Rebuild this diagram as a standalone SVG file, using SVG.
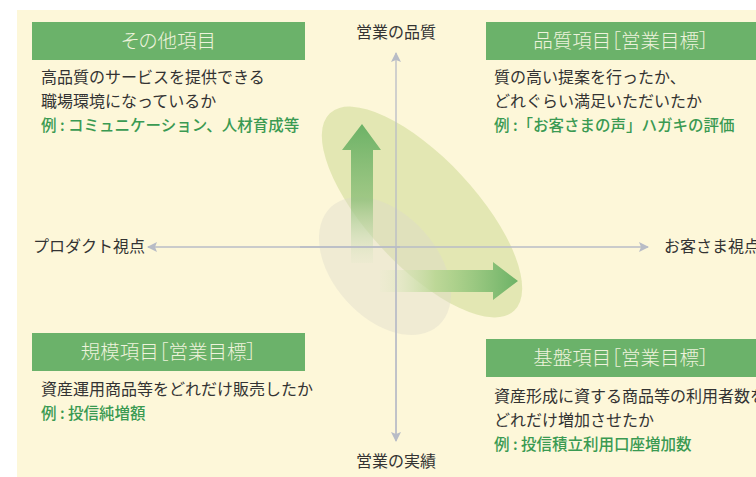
<svg xmlns="http://www.w3.org/2000/svg" width="756" height="477" viewBox="0 0 756 477">
  <defs>
    <style>
      .hdr { fill: #6bb26a; }
      .ht { font-family: "Noto Sans CJK JP", "Noto Sans", sans-serif; font-size: 19.5px; font-weight: 300; fill: #eef3dc; text-anchor: middle; font-feature-settings: "palt"; }
      .bt { font-family: "Noto Sans CJK JP", "Noto Sans", sans-serif; font-size: 16px; fill: #333333; }
      .gt { font-family: "Noto Sans CJK JP", "Noto Sans", sans-serif; font-size: 15.5px; fill: #3a9a52; font-weight: 500; }
      .ax { font-family: "Noto Sans CJK JP", "Noto Sans", sans-serif; font-size: 16px; fill: #333333; }
      .axis { stroke: #b8bcc6; stroke-width: 1.3; fill: none; }
    </style>
    <marker id="ah" viewBox="0 0 10 10" refX="9" refY="5" markerWidth="10" markerHeight="10" markerUnits="userSpaceOnUse" orient="auto">
      <path d="M0,0 L10,5 L0,10 L2,5 Z" fill="#b8bcc6"/>
    </marker>
    <linearGradient id="gUp" x1="0" y1="0" x2="0" y2="1">
      <stop offset="0" stop-color="#6cb266" stop-opacity="1"/>
      <stop offset="0.55" stop-color="#8fc07a" stop-opacity="0.8"/>
      <stop offset="1" stop-color="#dfe8c8" stop-opacity="0.2"/>
    </linearGradient>
    <linearGradient id="gRight" x1="0" y1="0" x2="1" y2="0">
      <stop offset="0" stop-color="#e6eccc" stop-opacity="0.2"/>
      <stop offset="0.4" stop-color="#b4d58e" stop-opacity="0.8"/>
      <stop offset="1" stop-color="#6cb266" stop-opacity="1"/>
    </linearGradient>
  </defs>

  <rect x="0" y="0" width="756" height="477" fill="#ffffff"/>
  <rect x="17" y="10" width="739" height="467" fill="#fdf7d9"/>

  <g id="ellipses">
    <ellipse cx="422" cy="212" rx="135" ry="54" transform="rotate(47 422 212)" fill="#d9e2a6" fill-opacity="0.75"/>
    <ellipse cx="385" cy="266" rx="80" ry="52" transform="rotate(48 385 266)" fill="#dcdacb" fill-opacity="0.4"/>
  </g>

  <g id="arrows">
    <path d="M351,263 L351,150 L342,150 L362,124 L381,150 L373,150 L373,263 Z" fill="url(#gUp)"/>
    <path d="M380,270 L493,270 L493,262 L518,281 L493,300 L493,292 L380,292 Z" fill="url(#gRight)"/>
  </g>

  <g id="connectors">
    <line class="axis" x1="396" y1="440" x2="396" y2="53" marker-end="url(#ah)"/>
    <line class="axis" x1="396" y1="247" x2="396" y2="441" marker-end="url(#ah)"/>
    <line class="axis" x1="300" y1="247" x2="648" y2="247" marker-end="url(#ah)"/>
    <line class="axis" x1="400" y1="247" x2="148" y2="247" marker-end="url(#ah)"/>
  </g>

  <g id="axis-labels">
    <text class="ax" x="396" y="38" text-anchor="middle">営業の品質</text>
    <text class="ax" x="396" y="467" text-anchor="middle">営業の実績</text>
    <text class="ax" x="33" y="252">プロダクト視点</text>
    <text class="ax" x="664" y="252">お客さま視点</text>
  </g>

  <g id="node-other">
    <rect class="hdr" x="32" y="22" width="273" height="38"/>
    <text class="ht" x="168.5" y="48">その他項目</text>
    <text class="bt" x="41" y="83">高品質のサービスを提供できる</text>
    <text class="bt" x="41" y="107">職場環境になっているか</text>
    <text class="gt" x="41" y="131">例 : コミュニケーション、人材育成等</text>
  </g>

  <g id="node-quality">
    <rect class="hdr" x="486" y="22" width="270" height="38"/>
    <text class="ht" x="621" y="48">品質項目［営業目標］</text>
    <text class="bt" x="494" y="83">質の高い提案を行ったか、</text>
    <text class="bt" x="494" y="107">どれぐらい満足いただいたか</text>
    <text class="gt" x="494" y="131">例 :「お客さまの声」ハガキの評価</text>
  </g>

  <g id="node-scale">
    <rect class="hdr" x="32" y="333" width="273" height="38"/>
    <text class="ht" x="168.5" y="359">規模項目［営業目標］</text>
    <text class="bt" x="41" y="395">資産運用商品等をどれだけ販売したか</text>
    <text class="gt" x="41" y="419">例 : 投信純増額</text>
  </g>

  <g id="node-base">
    <rect class="hdr" x="486" y="339" width="270" height="38"/>
    <text class="ht" x="621" y="365">基盤項目［営業目標］</text>
    <text class="bt" x="494" y="402">資産形成に資する商品等の利用者数を</text>
    <text class="bt" x="494" y="426">どれだけ増加させたか</text>
    <text class="gt" x="494" y="450">例 : 投信積立利用口座増加数</text>
  </g>
</svg>
